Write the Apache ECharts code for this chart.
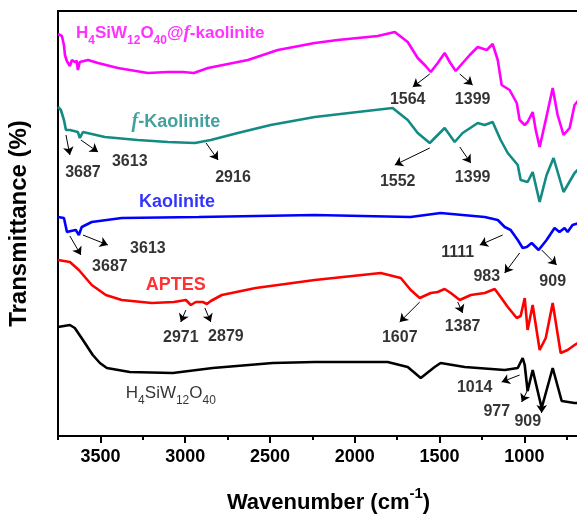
<!DOCTYPE html>
<html>
<head>
<meta charset="utf-8">
<script src="https://cdn.jsdelivr.net/npm/echarts@6.0.0/dist/echarts.min.js"></script>
<style>
  html, body { margin: 0; padding: 0; background: #fff; }
  #chart { width: 577px; height: 515px; }
</style>
</head>
<body>
<div id="chart"></div>
<script>
// FTIR spectra, wavenumber (cm-1) vs transmittance (arbitrary offset units)
const wnMagenta = [3750, 3727, 3715, 3709, 3698, 3680, 3668, 3651, 3639, 3633, 3621, 3573, 3514, 3397, 3220, 3102, 3014, 2949, 2866, 2630, 2454, 2236, 2101, 1865, 1764, 1688, 1629, 1582, 1552, 1511, 1470, 1440, 1405, 1364, 1322, 1275, 1222, 1187, 1157, 1134, 1087, 1045, 1028, 998, 981, 951, 933, 910, 874, 833, 804, 769, 733, 704, 657];
const tMagenta = [80.4, 80, 78.2, 76.2, 75, 74, 75.2, 74.8, 75, 73.2, 74.8, 75.2, 74.6, 73.6, 72.6, 72.8, 72.8, 72.6, 73.6, 75.2, 77.2, 78.6, 79.2, 80, 80.8, 78.8, 75.6, 74, 72.8, 74.6, 76.6, 74.8, 73, 74.6, 76.2, 77.8, 77.2, 78.4, 75.2, 70.2, 69.2, 66.6, 63.2, 62.2, 62.8, 64.8, 61.2, 57.8, 63.2, 69.6, 64.2, 60.2, 61.6, 66.2, 68.2];

const wnTeal = [3750, 3733, 3715, 3703, 3680, 3656, 3633, 3621, 3603, 3474, 3280, 3102, 2943, 2849, 2690, 2496, 2236, 1983, 1777, 1688, 1629, 1558, 1511, 1470, 1411, 1364, 1275, 1234, 1187, 1140, 1098, 1039, 1022, 981, 951, 910, 869, 828, 769, 704, 657];
const tTeal = [65.8, 65.2, 63.2, 61.2, 61.2, 61, 60.8, 59.6, 60.8, 59.8, 59.2, 58.8, 58.6, 59.2, 60.6, 62.2, 63.8, 64.8, 65.6, 63.2, 60.6, 58.6, 60.2, 61.6, 58.8, 60.6, 62.6, 62.2, 62.8, 59.2, 56.6, 54.2, 51.2, 50.8, 52.8, 46.8, 52.2, 55.6, 48.8, 52.6, 54.2];

const wnBlue = [3750, 3715, 3697, 3674, 3645, 3627, 3610, 3551, 3374, 2920, 2236, 1671, 1494, 1234, 1157, 1116, 1081, 1039, 1010, 986, 957, 916, 869, 822, 793, 763, 745, 716, 657];
const tBlue = [43.8, 43.6, 40.8, 41, 41.2, 40.2, 41.8, 42.8, 43.6, 43.8, 44.2, 43.8, 44.6, 43.8, 43.2, 41.8, 41.2, 39.2, 37.6, 37.8, 38.6, 37.2, 39.2, 41.6, 40.8, 41.6, 40.8, 42.2, 42.8];

const wnRed = [3750, 3680, 3627, 3551, 3468, 3374, 3197, 3067, 2996, 2967, 2937, 2896, 2872, 2849, 2784, 2584, 2236, 1847, 1729, 1670, 1617, 1552, 1511, 1470, 1434, 1381, 1316, 1234, 1175, 1140, 1098, 1045, 1022, 998, 981, 951, 910, 874, 833, 786, 745, 704, 657];
const tRed = [35.2, 34.8, 33.2, 30.2, 28.2, 27.2, 26.6, 26.8, 27.2, 26.2, 26.8, 26.8, 26.4, 27, 28.2, 29.6, 31.2, 32.6, 31.6, 29.2, 27.6, 28.6, 28.8, 29.4, 28.6, 27.2, 28.2, 28.6, 29.4, 27.8, 25.8, 23.6, 24, 27.6, 21.2, 26.2, 17.2, 19.6, 26.6, 16.6, 17.2, 18.2, 19.2];

const wnBlack = [3750, 3680, 3651, 3603, 3545, 3503, 3462, 3327, 3073, 2837, 2484, 2236, 1806, 1688, 1611, 1529, 1494, 1352, 1116, 1039, 1010, 998, 981, 951, 898, 833, 780, 704, 657];
const tBlack = [21.8, 22.2, 21.6, 19.2, 16.2, 14.6, 13.6, 12.8, 12.6, 13.6, 14.6, 14.8, 14.8, 13.8, 11.6, 13.8, 14.6, 13.8, 13.2, 13.6, 15.6, 14.2, 9, 13.2, 5.6, 13.6, 7, 6.6, 6.6];

const majorTicks = [1000, 1500, 2000, 2500, 3000, 3500];
const minorTicks = [750, 1250, 1750, 2250, 2750, 3250, 3750];

// peak labels: [wavenumber, T, text]
const peakLabels = [
  [1688, 67.2, '1564'], [1305, 67.2, '1399'],
  [3603, 52.6, '3687'], [3327, 54.8, '3613'], [2718, 51.6, '2916'], [1747, 50.8, '1552'], [1305, 51.6, '1399'],
  [3444, 33.8, '3687'], [3220, 37.4, '3613'], [1393, 36.6, '1111'], [1222, 31.8, '983'], [833, 30.8, '909'],
  [3026, 19.6, '2971'], [2760, 19.8, '2879'], [1735, 19.6, '1607'], [1364, 21.8, '1387'],
  [1293, 9.6, '1014'], [1163, 4.8, '977'], [980, 2.8, '909']
];
// arrows: [wn from, T from, wn to, T to]
const arrows = [
  [1558, 72.4, 1658, 69.8], [1381, 72.4, 1305, 70.2],
  [3703, 60.2, 3680, 56.2], [3615, 59.2, 3514, 56.8], [2877, 58.6, 2806, 55.2], [1558, 57.6, 1764, 54.2], [1381, 57.8, 1316, 54.6],
  [3680, 40, 3615, 36.2], [3603, 40.2, 3456, 38.2], [1128, 40.2, 1263, 38.2], [1028, 36.6, 1116, 32.6], [898, 37.2, 810, 34.2],
  [2996, 25.2, 3026, 22.8], [2884, 25.6, 2849, 22.8], [1617, 26.8, 1735, 22.8], [1393, 26.8, 1364, 24.6],
  [1028, 12.2, 1134, 10.8], [981, 9.2, 1016, 6.8], [898, 6.4, 898, 4.6]
];

const FONT = 'Liberation Sans, Arial, sans-serif';
const chart = echarts.init(document.getElementById('chart'));

function zip(w, t) {
  return w.map(function (v, i) { return [v, t[i]]; });
}

const spectra = [
  { name: 'H4SiW12O40@f-kaolinite', color: '#ff00ff', data: zip(wnMagenta, tMagenta) },
  { name: 'f-Kaolinite', color: '#138a84', data: zip(wnTeal, tTeal) },
  { name: 'Kaolinite', color: '#0000ff', data: zip(wnBlue, tBlue) },
  { name: 'APTES', color: '#ff0000', data: zip(wnRed, tRed) },
  { name: 'H4SiW12O40', color: '#000000', data: zip(wnBlack, tBlack) }
];

function subRich(color, size, bold) {
  const w = bold ? 'bold' : 'normal';
  return {
    b: { fontSize: size, fontWeight: w, color: color, fontFamily: FONT },
    s: { fontSize: Math.round(size * 0.7), fontWeight: w, color: color, fontFamily: FONT, padding: [15, 0, 0, 0] },
    f: { fontSize: size + 2, fontWeight: 'bold', fontStyle: 'italic', color: color, fontFamily: 'Liberation Serif, serif' }
  };
}

const nameLabels = [
  { value: [3644, 80.6], label: { align: 'left', formatter: '{b|H}{s|4}{b|SiW}{s|12}{b|O}{s|40}{b|@}{f|f}{b|-kaolinite}', rich: subRich('#ff00ff', 17, true) } },
  { value: [3055, 62.8], label: { formatter: '{f|f}{b|-Kaolinite}', rich: subRich('#138a84', 18, true) } },
  { value: [3049, 46.8], label: { formatter: '{b|Kaolinite}', rich: subRich('#0000ff', 18, true) } },
  { value: [3055, 30.2], label: { formatter: '{b|APTES}', rich: subRich('#ff0000', 18, true) } },
  { value: [3350, 8.6], label: { align: 'left', formatter: '{b|H}{s|4}{b|SiW}{s|12}{b|O}{s|40}', rich: subRich('#000000', 17, false) } }
];

const series = spectra.map(function (s) {
  return {
    name: s.name,
    type: 'line',
    data: s.data,
    showSymbol: false,
    lineStyle: { color: s.color, width: 2.6 },
    itemStyle: { color: s.color },
    z: 2
  };
});

series.push({
  type: 'scatter',
  name: 'peaks',
  data: peakLabels,
  symbolSize: 0,
  z: 5,
  label: {
    show: true,
    position: 'inside',
    formatter: function (p) { return p.data[2]; },
    color: '#000',
    fontSize: 16,
    fontWeight: 'bold',
    fontFamily: FONT
  },
  markLine: {
    silent: true,
    symbol: ['none', 'arrow'],
    symbolSize: 8,
    label: { show: false },
    lineStyle: { color: '#000', width: 1, type: 'solid' },
    itemStyle: { color: '#000' },
    data: arrows.map(function (a) {
      return [{ coord: [a[0], a[1]] }, { coord: [a[2], a[3]] }];
    })
  }
});

series.push({
  type: 'scatter',
  name: 'names',
  data: nameLabels,
  symbolSize: 0,
  z: 5,
  label: { show: true, position: 'inside' }
});

const option = {
  animation: false,
  backgroundColor: '#fff',
  grid: {
    left: 58, top: 11, width: 541, height: 425,
    outerBoundsMode: 'none', containLabel: false,
    show: true, borderColor: '#000', borderWidth: 2
  },
  xAxis: [
    {
      type: 'value',
      inverse: true,
      min: 560,
      max: 3750,
      axisLine: { onZero: false, lineStyle: { color: '#000', width: 2 } },
      axisTick: { customValues: majorTicks, length: 7, lineStyle: { color: '#000', width: 2 } },
      axisLabel: {
        customValues: majorTicks,
        formatter: function (v) { return String(v); },
        color: '#000', fontSize: 18, fontWeight: 'bold', fontFamily: FONT, margin: 12
      },
      splitLine: { show: false },
      name: '{a|Wavenumber (cm}{sup|-1}{a|)}',
      nameLocation: 'middle',
      nameGap: 50,
      nameTextStyle: {
        rich: {
          a: { fontSize: 22, fontWeight: 'bold', color: '#000', fontFamily: FONT },
          sup: { fontSize: 15, fontWeight: 'bold', color: '#000', fontFamily: FONT, padding: [0, 0, 18, 0] }
        }
      }
    },
    {
      type: 'value',
      inverse: true,
      min: 560,
      max: 3750,
      position: 'bottom',
      axisLine: { show: false, onZero: false },
      axisTick: { customValues: minorTicks, length: 4, lineStyle: { color: '#000', width: 2 } },
      axisLabel: { show: false },
      splitLine: { show: false }
    }
  ],
  yAxis: {
    type: 'value',
    min: 0,
    max: 85,
    axisLine: { show: true, lineStyle: { color: '#000', width: 2 } },
    axisTick: { show: false },
    axisLabel: { show: false },
    splitLine: { show: false },
    name: 'Transmittance (%)',
    nameLocation: 'middle',
    nameGap: 27,
    nameTextStyle: { fontSize: 24, fontWeight: 'bold', color: '#000', fontFamily: FONT }
  },
  series: series
};

chart.setOption(option);
</script>
</body>
</html>
